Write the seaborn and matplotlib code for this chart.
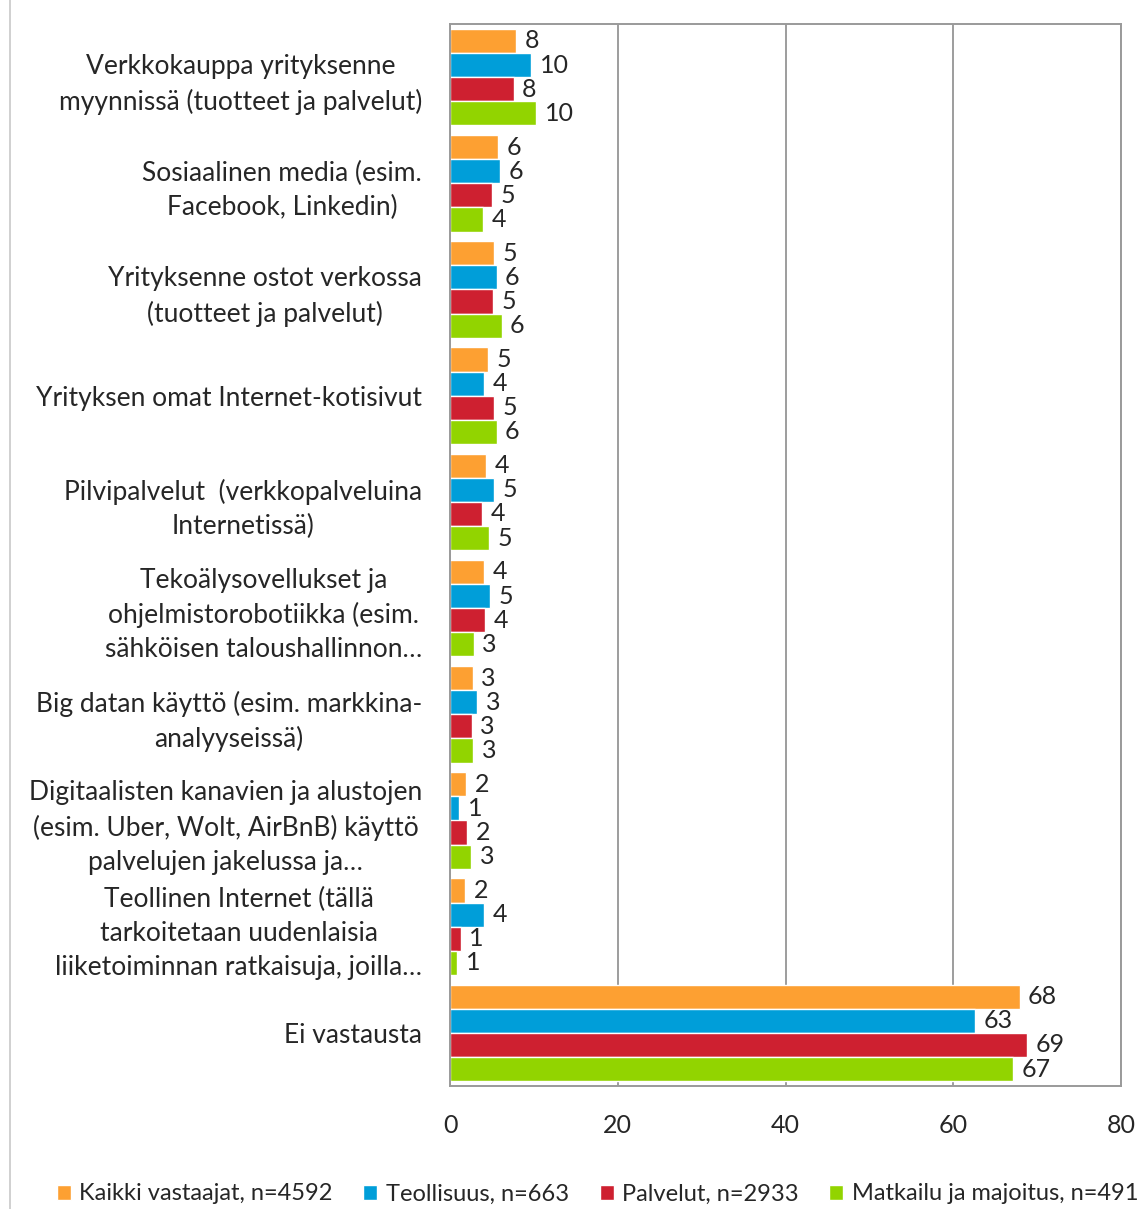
import pandas as pd
import numpy as np
import matplotlib.pyplot as plt
from matplotlib.lines import Line2D
import seaborn as sns

# kategoriat (y-akseli)
kategoriat = [
    "Verkkokauppa yrityksenne\nmyynnissä (tuotteet ja palvelut)",
    "Sosiaalinen media (esim.\nFacebook, Linkedin)",
    "Yrityksenne ostot verkossa\n(tuotteet ja palvelut)",
    "Yrityksen omat Internet-kotisivut",
    "Pilvipalvelut  (verkkopalveluina\nInternetissä)",
    "Tekoälysovellukset ja\nohjelmistorobotiikka (esim.\nsähköisen taloushallinnon…",
    "Big datan käyttö (esim. markkina-\nanalyyseissä)",
    "Digitaalisten kanavien ja alustojen\n(esim. Uber, Wolt, AirBnB) käyttö\npalvelujen jakelussa ja…",
    "Teollinen Internet (tällä\ntarkoitetaan uudenlaisia\nliiketoiminnan ratkaisuja, joilla…",
    "Ei vastausta",
]

ryhmat = ["Kaikki vastaajat, n=4592", "Teollisuus, n=663",
          "Palvelut, n=2933", "Matkailu ja majoitus, n=491"]

kaikki = [7.9, 5.75, 5.3, 4.55, 4.3, 4.1, 2.7, 1.95, 1.8, 67.9]
teollisuus = [9.7, 6.0, 5.55, 4.1, 5.25, 4.75, 3.25, 1.1, 4.1, 62.6]
palvelut = [7.6, 5.0, 5.15, 5.3, 3.85, 4.2, 2.6, 2.05, 1.3, 68.8]
matkailu = [10.3, 3.95, 6.15, 5.55, 4.7, 2.85, 2.8, 2.55, 0.85, 67.1]

varit = ["#FDA032", "#009ED9", "#CE2030", "#92D400"]

df = pd.DataFrame({"Kategoria": kategoriat, ryhmat[0]: kaikki, ryhmat[1]: teollisuus,
                   ryhmat[2]: palvelut, ryhmat[3]: matkailu})
df = df.melt(id_vars="Kategoria", var_name="Ryhmä", value_name="Osuus")

sns.set_style("white")
plt.rcParams['font.family'] = ['Lato', 'DejaVu Sans']

fig = plt.figure(figsize=(11.39, 12.09), dpi=100)
ax = fig.add_axes([450 / 1139, 1 - 1086 / 1209, 671 / 1139, 1062 / 1209])

sns.barplot(data=df, y="Kategoria", x="Osuus", hue="Ryhmä", hue_order=ryhmat,
            order=kategoriat, palette=varit, saturation=1, orient="h",
            width=0.91, ax=ax)

for c in ax.containers:
    ax.bar_label(c, fmt="%.0f", padding=6, fontsize=18)

ax.set_xlim(0, 80)
ax.set_xticks([0, 20, 40, 60, 80])
ax.xaxis.grid(True, color="#8c8c8c", linewidth=1.2)
ax.set_axisbelow(True)
for s in ax.spines.values():
    s.set_color("#9a9a9a")
    s.set_linewidth(1.4)
ax.set_xlabel("")
ax.set_ylabel("")
ax.tick_params(axis="x", length=0, pad=20, labelsize=18)
ax.tick_params(axis="y", length=0, pad=20, labelsize=19)
for t in ax.get_yticklabels():
    t.set_multialignment("center")
    t.set_linespacing(1.45)

h, l = ax.get_legend_handles_labels()
ax.get_legend().remove()
fig.legend(h, l, loc="center", bbox_to_anchor=(0.5246, 1 - 1194 / 1209), ncol=4,
           frameon=False, fontsize=17, handlelength=0.6, handleheight=0.6,
           handletextpad=0.35, columnspacing=1.3, borderpad=0, borderaxespad=0)

fig.add_artist(Line2D([10 / 1139, 10 / 1139], [0, 1], color="#c8c8c8", linewidth=1.2))

fig.savefig("out.png", dpi=100)
